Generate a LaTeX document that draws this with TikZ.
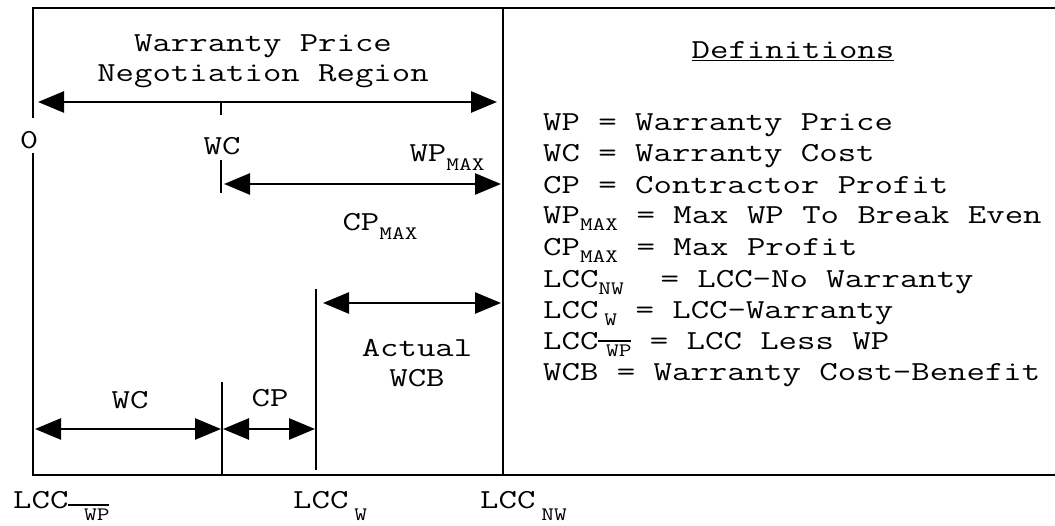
\documentclass[tikz,border=0pt]{standalone}
\usepackage{fontspec}
\usetikzlibrary{arrows.meta}
\newfontfamily\diagfont{Latin Modern Mono}[FakeStretch=1.30]
\newcommand{\mainsize}{\fontsize{27.5}{31}\selectfont}
\newcommand{\subsize}{\fontsize{19}{21}\selectfont}
\newcommand{\lowsub}[2][7pt]{\raisebox{-#1}{\subsize #2}}
\newcommand{\barsub}[2][7pt]{\raisebox{-#1}{\subsize\setbox0\hbox{\hspace{0.4em}#2}\rlap{\rule[\dimexpr\ht0+3pt\relax]{\wd0}{2.2pt}}\box0}}

\begin{document}
\begin{tikzpicture}[
  x=1pt, y=1pt,
  frame/.style={
    line width=2.6pt
  },
  dimarr/.style={
    {Triangle[length=26pt,width=21pt]}-{Triangle[length=26pt,width=21pt]},
    line width=2.6pt
  },
  lbl/.style={
    font=\diagfont\mainsize, inner sep=0pt, anchor=base
  },
  deftxt/.style={
    font=\diagfont\mainsize, inner sep=0pt, anchor=base west
  }
]
\useasboundingbox (0,0) rectangle (1055,525);

% Frame
\coordinate (tl) at (33,517);
\coordinate (tr) at (1055,517);
\coordinate (bl) at (33,50);
\coordinate (br) at (1055,50);
\coordinate (gaptop) at (33,407);
\coordinate (gapbot) at (33,372);
\coordinate (dtop) at (503,517);
\coordinate (dbot) at (503,50);
\draw[frame] (gaptop) -- (tl) -- (tr);
\draw[frame] (gapbot) -- (bl) -- (br);
\draw[frame] (dtop) -- (dbot);

% Upper part: negotiation region
\node[lbl] (title1) at (263,473) {Warranty Price};
\node[lbl] (title2) at (263,443) {Negotiation Region};

\coordinate (npl) at (38,423);
\coordinate (npr) at (497,423);
\draw[dimarr] (npl) -- (npr);

\coordinate (wca) at (221,423);
\coordinate (wcb) at (221,410);
\coordinate (wcc) at (221,365);
\coordinate (wcd) at (221,332);
\draw[frame] (wca) -- (wcb);
\draw[frame] (wcc) -- (wcd);

\node[lbl] (zero) at (29,376) {0};
\node[lbl] (wctop) at (222,370) {WC};
\node[lbl] (wpmax) at (447,363) {WP\lowsub[9pt]{MAX}};

\coordinate (cpl) at (224,341);
\coordinate (cpr) at (501,341);
\draw[dimarr] (cpl) -- (cpr);
\node[lbl] (cpmax) at (380,294) {CP\lowsub[9pt]{MAX}};

% Lower part: cost-benefit
\coordinate (lwt) at (316,236);
\coordinate (lwb) at (316,55);
\draw[frame] (lwt) -- (lwb);

\coordinate (wcbl) at (323,222);
\coordinate (wcbr) at (501,222);
\draw[dimarr] (wcbl) -- (wcbr);
\node[lbl] (act1) at (417,168) {Actual};
\node[lbl] (act2) at (417,138) {WCB};

\coordinate (wct) at (222,143);
\coordinate (wcbot) at (222,50);
\draw[frame] (wct) -- (wcbot);

\coordinate (wcl) at (35,96);
\coordinate (wcr) at (221,96);
\coordinate (cpbl) at (223,96);
\coordinate (cpbr) at (315,96);
\draw[dimarr] (wcl) -- (wcr);
\draw[dimarr] (cpbl) -- (cpbr);
\node[lbl] (wclow) at (130,116) {WC};
\node[lbl] (cplow) at (270,118) {CP};

% Axis labels
\node[lbl, anchor=base west] (lccwp) at (13,17) {LCC\barsub[13pt]{\hspace{8pt}WP}};
\node[lbl, anchor=base west] (lccw) at (293,17) {LCC\lowsub[13pt]{\hspace{6pt}W}};
\node[lbl, anchor=base west] (lccnw) at (480,17) {LCC\lowsub[13pt]{\hspace{6pt}NW}};

% Definitions
\node[lbl] (defhead) at (793,466) {\underline{Definitions}};
\node[deftxt] (dwp) at (543,394) {WP = Warranty Price};
\node[deftxt] (dwc) at (543,363) {WC = Warranty Cost};
\node[deftxt] (dcp) at (543,331) {CP = Contractor Profit};
\node[deftxt] (dwpmax) at (543,301) {WP\lowsub{MAX} = Max WP To Break Even};
\node[deftxt] (dcpmax) at (543,269) {CP\lowsub{MAX} = Max Profit};
\node[deftxt] (dlccnw) at (543,237) {LCC\lowsub{NW}~ = LCC-No Warranty};
\node[deftxt] (dlccw) at (543,206) {LCC\lowsub{\hspace{6pt}W} = LCC-Warranty};
\node[deftxt] (dlccwp) at (543,175) {LCC\barsub{WP} = LCC Less WP};
\node[deftxt] (dwcb) at (543,144) {WCB = Warranty Cost-Benefit};

\end{tikzpicture}
\end{document}
